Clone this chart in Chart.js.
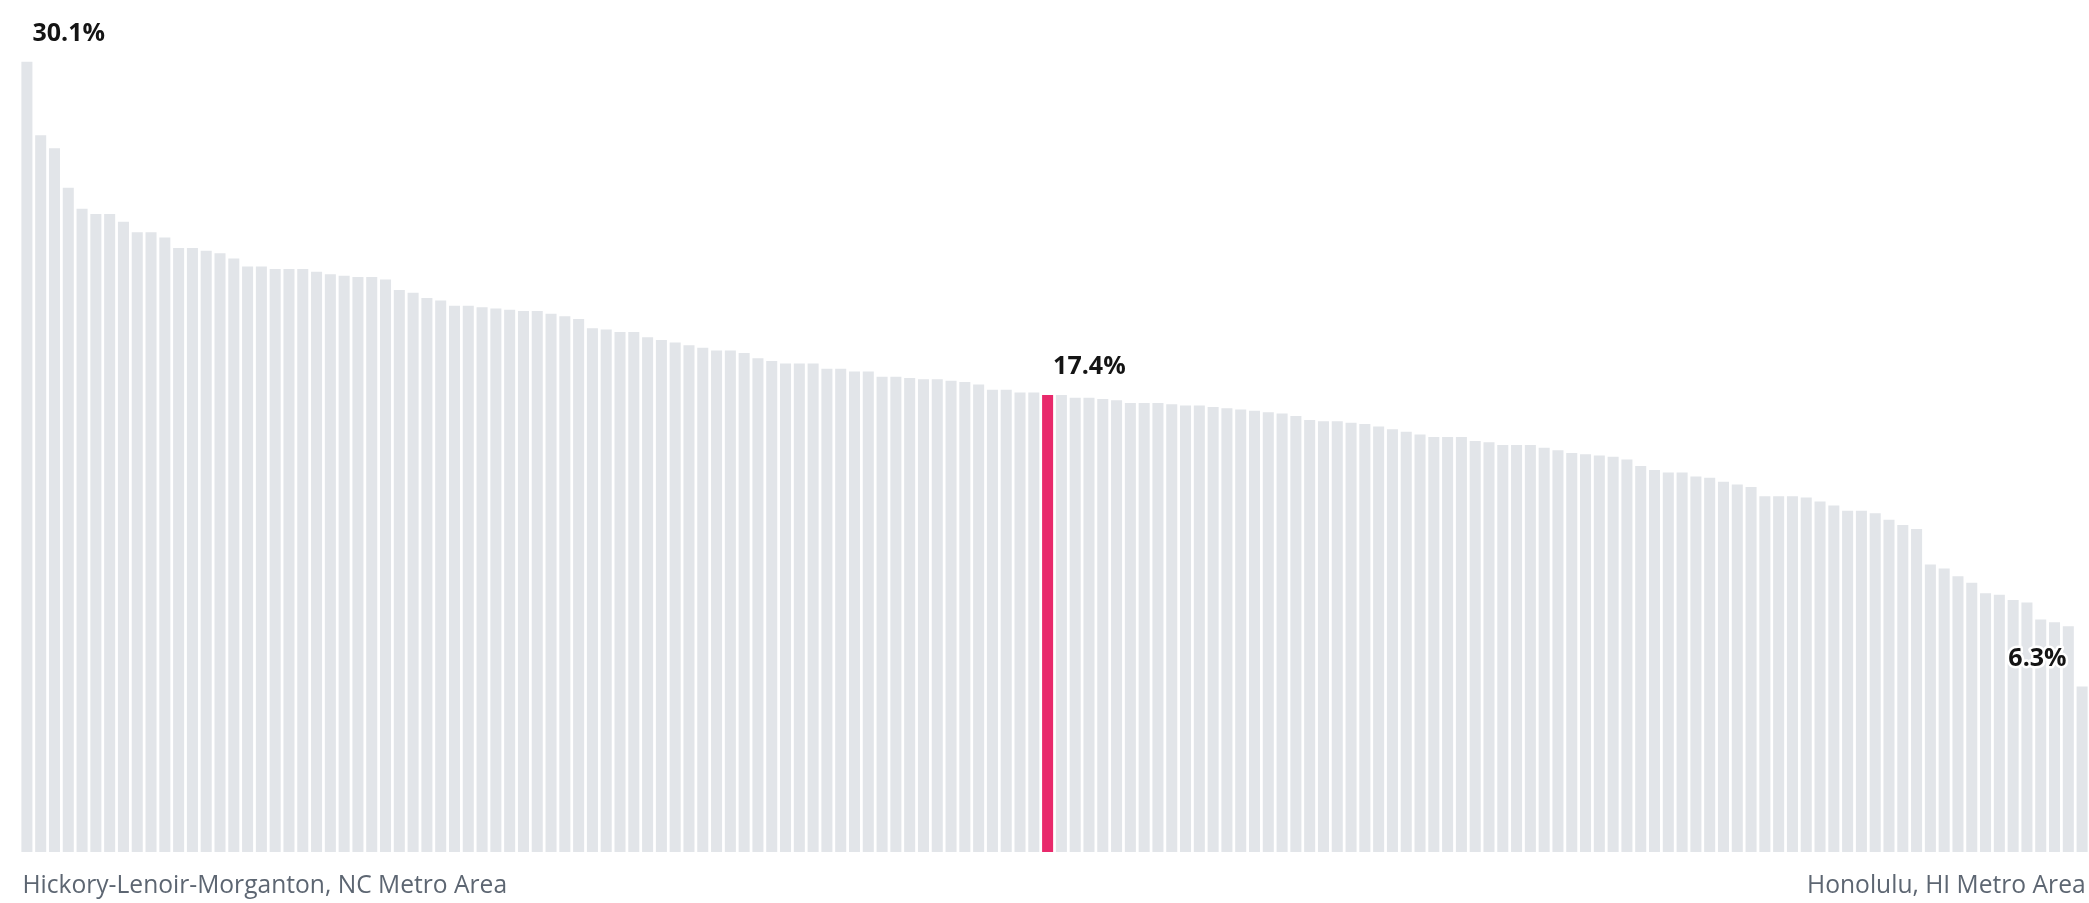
<!DOCTYPE html>
<html>
<head>
<meta charset="utf-8">
<script src="https://cdn.jsdelivr.net/npm/chart.js@4/dist/chart.umd.min.js"></script>
<style>
  html, body { margin: 0; padding: 0; background: #ffffff; }
  #wrap { position: relative; width: 2089px; height: 903px; }
</style>
</head>
<body>
<div id="wrap"><canvas id="c"></canvas></div>
<script>
// ---- DATA ----
const firstArea = "Hickory-Lenoir-Morganton, NC Metro Area";
const lastArea = "Honolulu, HI Metro Area";

const shares = [
  30.1, 27.3, 26.8, 25.3, 24.5, 24.3, 24.3, 24.0, 23.6, 23.6,
  23.4, 23.0, 23.0, 22.9, 22.8, 22.6, 22.3, 22.3, 22.2, 22.2,
  22.2, 22.1, 22.0, 21.95, 21.9, 21.9, 21.8, 21.4, 21.3, 21.1,
  21.0, 20.8, 20.8, 20.75, 20.7, 20.65, 20.6, 20.6, 20.5, 20.4,
  20.3, 19.95, 19.9, 19.8, 19.8, 19.6, 19.5, 19.4, 19.3, 19.2,
  19.1, 19.1, 19.0, 18.8, 18.7, 18.6, 18.6, 18.6, 18.4, 18.4,
  18.3, 18.3, 18.1, 18.1, 18.05, 18.0, 18.0, 17.95, 17.9, 17.8,
  17.6, 17.6, 17.5, 17.5, 17.4, 17.4, 17.3, 17.3, 17.25, 17.2,
  17.1, 17.1, 17.1, 17.05, 17.0, 17.0, 16.95, 16.9, 16.85, 16.8,
  16.75, 16.7, 16.6, 16.45, 16.4, 16.4, 16.35, 16.3, 16.2, 16.1,
  16.0, 15.9, 15.8, 15.8, 15.8, 15.65, 15.6, 15.5, 15.5, 15.5,
  15.4, 15.3, 15.2, 15.15, 15.1, 15.05, 14.95, 14.7, 14.55, 14.45,
  14.45, 14.3, 14.25, 14.1, 14.0, 13.9, 13.55, 13.55, 13.55, 13.5,
  13.35, 13.2, 13.0, 13.0, 12.9, 12.65, 12.45, 12.3, 10.95, 10.8,
  10.5, 10.25, 9.85, 9.8, 9.6, 9.5, 8.85, 8.75, 8.6, 6.3
];

// category labels: only the two end areas are named in the picture
const areas = shares.map((v, i) => i === 0 ? firstArea : (i === shares.length - 1 ? lastArea : ""));

const highlightIndex = 74;          // the red bar
const labelledIndexes = [0, 74, 149];

const greyColor = "#e2e5e9";
const redColor = "#e8296b";

// ---- plugins ----
const valueLabels = {
  id: "valueLabels",
  afterDatasetsDraw(chart) {
    const ctx = chart.ctx;
    const meta = chart.getDatasetMeta(0);
    ctx.save();
    ctx.font = "bold 25px 'Open Sans'";
    ctx.fillStyle = "#141414";
    ctx.textBaseline = "alphabetic";
    labelledIndexes.forEach(i => {
      const bar = meta.data[i];
      const txt = chart.data.datasets[0].data[i].toFixed(1) + "%";
      const y = bar.y - 21;
      let x, align;
      if (i === shares.length - 1) {
        align = "right"; x = bar.x - bar.width / 2 - 10;
      } else {
        align = "left"; x = bar.x + bar.width / 2;
      }
      ctx.textAlign = align;
      ctx.lineWidth = 5;
      ctx.strokeStyle = "#ffffff";
      ctx.lineJoin = "round";
      ctx.strokeText(txt, x, y);
      ctx.fillText(txt, x, y);
    });
    ctx.restore();
  }
};

const endLabels = {
  id: "endLabels",
  afterDraw(chart) {
    const ctx = chart.ctx;
    const meta = chart.getDatasetMeta(0);
    const labels = chart.data.labels;
    ctx.save();
    ctx.font = "24.6px 'Open Sans'";
    ctx.fillStyle = "#5d6672";
    ctx.textBaseline = "middle";
    const y = 886;
    const b0 = meta.data[0];
    ctx.textAlign = "left";
    ctx.fillText(labels[0], b0.x - b0.width / 2 + 1, y);
    const bl = meta.data[labels.length - 1];
    ctx.textAlign = "right";
    ctx.fillText(labels[labels.length - 1], bl.x + bl.width / 2 - 2, y);
    ctx.restore();
  }
};

new Chart(document.getElementById("c"), {
  type: "bar",
  data: {
    labels: areas,
    datasets: [{
      data: shares,
      backgroundColor: shares.map((v, i) => i === highlightIndex ? redColor : greyColor),
      borderWidth: 0,
      barPercentage: 0.8,
      categoryPercentage: 1.0
    }]
  },
  options: {
    responsive: true,
    maintainAspectRatio: false,
    animation: false,
    layout: { padding: { left: 20, right: 0, top: 38, bottom: 51 } },
    plugins: { legend: { display: false }, tooltip: { enabled: false } },
    scales: {
      x: { display: false, offset: true, grid: { display: false } },
      y: { display: false, min: 0, max: 31 }
    }
  },
  plugins: [valueLabels, endLabels]
});
</script>
</body>
</html>
